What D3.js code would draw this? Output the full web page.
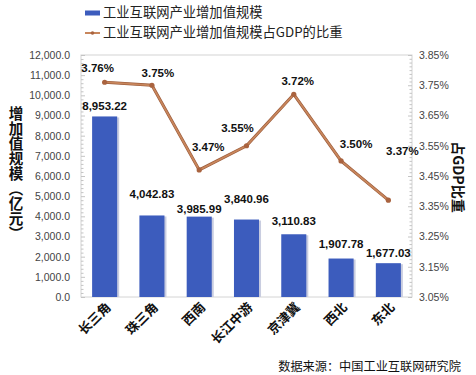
<!DOCTYPE html>
<html>
<head>
<meta charset="utf-8">
<script src="https://cdn.jsdelivr.net/npm/d3@7"></script>
<style>
  body { margin: 0; background: #fff; }
  svg { display: block; font-family: "Liberation Sans", "Noto Sans CJK SC", sans-serif; }
  .cjk { font-family: "Noto Sans CJK SC", sans-serif; }
</style>
</head>
<body>
<svg id="chart" width="476" height="375"></svg>
<script>
const regions = ["长三角", "珠三角", "西南", "长江中游", "京津冀", "西北", "东北"];
const addedValue = [8953.22, 4042.83, 3985.99, 3840.96, 3110.83, 1907.78, 1677.03];
const gdpShare = [3.76, 3.75, 3.47, 3.55, 3.72, 3.50, 3.37];
const leftTicks = [0, 1000, 2000, 3000, 4000, 5000, 6000, 7000, 8000, 9000, 10000, 11000, 12000];
const rightTicks = [3.05, 3.15, 3.25, 3.35, 3.45, 3.55, 3.65, 3.75, 3.85];
const seriesNames = ["工业互联网产业增加值规模", "工业互联网产业增加值规模占GDP的比重"];

// hand placed label nudges (the original labels were moved around by hand)
const BAR_LABEL_DY = [-9, -21, -7, -20, -12, -14, -9];
const PCT_LABEL_POS = [[-7, -13], [6, -11], [9, -22], [-9, -17], [4, -12], [15, -16], [14, -48]];

const BAR_COLOR = "#3c5cbd";
const LINE_COLOR = "#c8865c";
const MARGIN = { top: 55, right: 64, bottom: 78, left: 81 };
const W = 476, H = 375;
const innerW = W - MARGIN.left - MARGIN.right;
const innerH = H - MARGIN.top - MARGIN.bottom;

const svg = d3.select("#chart");
const g = svg.append("g").attr("transform", `translate(${MARGIN.left},${MARGIN.top})`);

const x = d3.scaleBand().domain(regions).range([0, innerW]).paddingInner(0.47).paddingOuter(0.235);
const yL = d3.scaleLinear().domain([0, 12000]).range([innerH, 0]);
const yR = d3.scaleLinear().domain([3.05, 3.85]).range([innerH, 0]);
const cx = (d) => x(d) + x.bandwidth() / 2;

// plot frame
g.append("rect")
  .attr("width", innerW)
  .attr("height", innerH)
  .attr("fill", "none")
  .attr("stroke", "#d4d4d4");

// minor ticks inside the frame
g.selectAll(".minorL")
  .data(d3.range(0, 12001, 200))
  .join("line")
  .attr("x1", 0).attr("x2", (d) => (d % 1000 === 0 ? 4 : 2.5))
  .attr("y1", (d) => yL(d) + 0.5).attr("y2", (d) => yL(d) + 0.5)
  .attr("stroke", "#c4c4c4");
g.selectAll(".minorR")
  .data(d3.range(0, 65))
  .join("line")
  .attr("x1", innerW).attr("x2", (i) => innerW - (i % 8 === 0 ? 4 : 2.5))
  .attr("y1", (i) => yR(3.05 + i * 0.0125) + 0.5).attr("y2", (i) => yR(3.05 + i * 0.0125) + 0.5)
  .attr("stroke", "#c4c4c4");

// axes (labels only)
const fmtL = d3.format(",.1f");
const leftAxis = g.append("g")
  .call(d3.axisLeft(yL).tickValues(leftTicks).tickFormat(fmtL).tickSize(0).tickPadding(11));
const rightAxis = g.append("g")
  .attr("transform", `translate(${innerW},0)`)
  .call(d3.axisRight(yR).tickValues(rightTicks).tickFormat((d) => d.toFixed(2) + "%").tickSize(0).tickPadding(7));
[leftAxis, rightAxis].forEach((a) => {
  a.select(".domain").remove();
  a.selectAll("text").attr("fill", "#444").style("font-size", "10.5px");
});

// bars with a faint shadow
g.selectAll(".shadow")
  .data(regions)
  .join("rect")
  .attr("x", (d) => x(d) + 2)
  .attr("y", (d, i) => yL(addedValue[i]) + 1)
  .attr("width", x.bandwidth())
  .attr("height", (d, i) => innerH - yL(addedValue[i]) - 1)
  .attr("fill", "#c9cde0");
g.selectAll(".bar")
  .data(regions)
  .join("rect")
  .attr("x", (d) => x(d))
  .attr("y", (d, i) => yL(addedValue[i]))
  .attr("width", x.bandwidth())
  .attr("height", (d, i) => innerH - yL(addedValue[i]))
  .attr("fill", BAR_COLOR);

g.selectAll(".barlabel")
  .data(regions)
  .join("text")
  .attr("x", (d) => cx(d))
  .attr("y", (d, i) => yL(addedValue[i]) + BAR_LABEL_DY[i])
  .attr("text-anchor", "middle")
  .attr("dominant-baseline", "middle")
  .attr("font-weight", "bold")
  .attr("font-size", "11.5px")
  .attr("fill", "#111")
  .text((d, i) => d3.format(",.2f")(addedValue[i]));

// share line
const line = d3.line()
  .x((d, i) => cx(regions[i]))
  .y((d) => yR(d));
g.append("path")
  .datum(gdpShare)
  .attr("d", line)
  .attr("fill", "none")
  .attr("stroke", "#9a5a3a")
  .attr("stroke-width", 3);
g.append("path")
  .datum(gdpShare)
  .attr("d", line)
  .attr("fill", "none")
  .attr("stroke", LINE_COLOR)
  .attr("stroke-width", 1.8);
g.selectAll(".pt")
  .data(gdpShare)
  .join("circle")
  .attr("cx", (d, i) => cx(regions[i]))
  .attr("cy", (d) => yR(d))
  .attr("r", 2.6)
  .attr("fill", "#a9633f");

g.selectAll(".pctlabel")
  .data(gdpShare)
  .join("text")
  .attr("x", (d, i) => cx(regions[i]) + PCT_LABEL_POS[i][0])
  .attr("y", (d, i) => yR(d) + PCT_LABEL_POS[i][1])
  .attr("text-anchor", "middle")
  .attr("dominant-baseline", "middle")
  .attr("font-weight", "bold")
  .attr("font-size", "11.5px")
  .attr("fill", "#111")
  .text((d) => d.toFixed(2) + "%");

// category labels, rotated
g.selectAll(".cat")
  .data(regions)
  .join("text")
  .attr("class", "cjk")
  .attr("text-anchor", "end")
  .attr("font-size", "13px")
  .attr("font-weight", "bold")
  .attr("fill", "#111")
  .attr("transform", (d) => `translate(${cx(d) + 7},${innerH + 11}) rotate(-45)`)
  .text((d) => d);

// axis titles
svg.append("text")
  .attr("class", "cjk")
  .attr("x", 16)
  .attr("y", 106)
  .style("writing-mode", "vertical-rl")
  .style("letter-spacing", "0.5px")
  .attr("font-size", "14.5px")
  .attr("font-weight", "bold")
  .attr("fill", "#111")
  .text("增加值规模（亿元）");
svg.append("text")
  .attr("class", "cjk")
  .attr("transform", `translate(457,177) rotate(90)`)
  .attr("text-anchor", "middle")
  .attr("dominant-baseline", "middle")
  .attr("font-size", "14px")
  .attr("font-weight", "bold")
  .attr("fill", "#111")
  .text("占GDP比重");

// legend
const legend = svg.append("g").attr("transform", "translate(85,0)");
legend.append("rect")
  .attr("x", 0).attr("y", 10.5).attr("width", 15).attr("height", 5)
  .attr("fill", BAR_COLOR);
legend.append("line")
  .attr("x1", 0).attr("x2", 15).attr("y1", 33).attr("y2", 33)
  .attr("stroke", LINE_COLOR).attr("stroke-width", 2);
legend.append("circle")
  .attr("cx", 7.5).attr("cy", 33).attr("r", 1.8).attr("fill", "#a9633f");
legend.selectAll(".lt")
  .data(seriesNames)
  .join("text")
  .attr("class", "cjk")
  .attr("x", 18)
  .attr("y", (d, i) => 13 + i * 20)
  .attr("dominant-baseline", "middle")
  .attr("font-size", "13.3px")
  .attr("fill", "#222")
  .text((d) => d);

// source
svg.append("text")
  .attr("class", "cjk")
  .attr("x", 461)
  .attr("y", 368)
  .attr("text-anchor", "end")
  .attr("dominant-baseline", "middle")
  .attr("font-size", "12.2px")
  .attr("fill", "#111")
  .text("数据来源：中国工业互联网研究院");
</script>
</body>
</html>
